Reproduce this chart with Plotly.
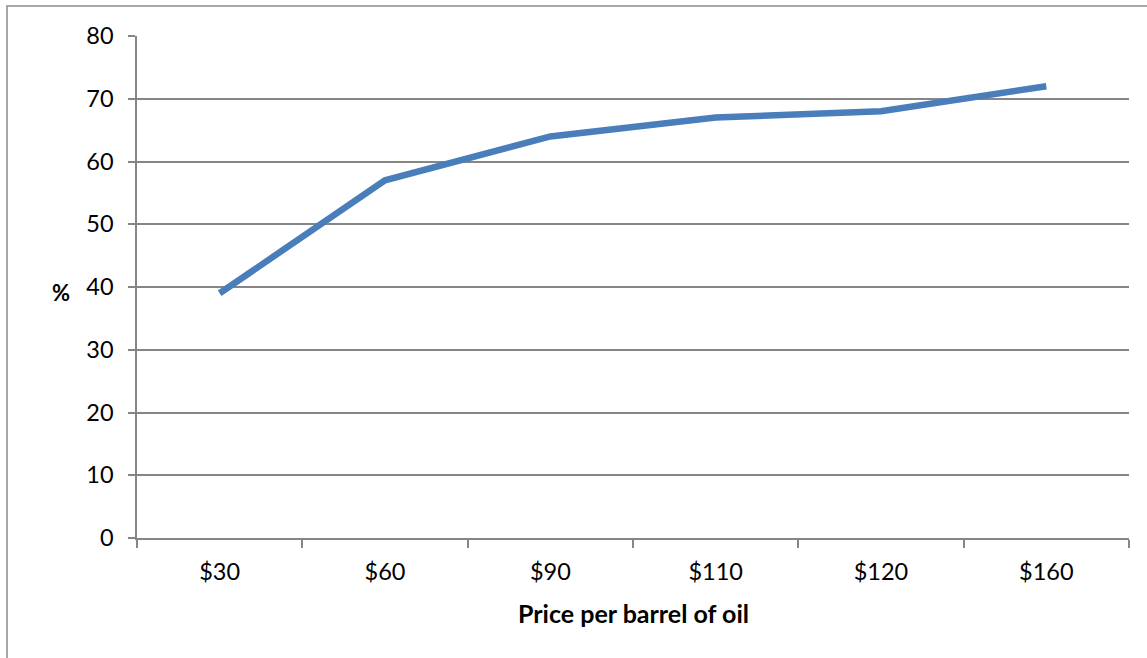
import plotly.graph_objects as go

# Oil price categories and share (%) at each price point
prices = ["$30", "$60", "$90", "$110", "$120", "$160"]
share_pct = [39, 57, 64, 67, 68, 72]
y_ticks = [0, 10, 20, 30, 40, 50, 60, 70, 80]

W, H = 1147, 658
L, R, T, B = 137, 18, 36, 120
plot_w = W - L - R
plot_h = H - T - B

grid_col = "#868686"
font_fam = "Lato, 'Open Sans', sans-serif"

fig = go.Figure()
fig.add_trace(go.Scatter(
    x=prices, y=share_pct, mode="lines",
    line=dict(color="#4a7ebb", width=6.5, shape="linear"),
    hoverinfo="x+y",
))

# outer chart frame (extends beyond the right and bottom edges)
def px_to_paper_x(px):
    return (px - L) / plot_w

def py_to_paper_y(py):
    return (H - B - py) / plot_h

fig.add_shape(type="rect", xref="paper", yref="paper",
              x0=px_to_paper_x(7), x1=px_to_paper_x(W + 20),
              y0=py_to_paper_y(H + 20), y1=py_to_paper_y(6),
              line=dict(color="#8c8c8c", width=1.5), fillcolor="rgba(0,0,0,0)",
              layer="below")

fig.add_annotation(text="<b>%</b>", xref="paper", yref="paper",
                   x=px_to_paper_x(61), y=py_to_paper_y(292),
                   xanchor="center", yanchor="middle",
                   showarrow=False, font=dict(family=font_fam, size=22, color="#000"))
fig.add_annotation(text="<b>Price per barrel of oil</b>", xref="paper", yref="paper",
                   x=px_to_paper_x(633), y=py_to_paper_y(613),
                   xanchor="center", yanchor="middle",
                   showarrow=False, font=dict(family=font_fam, size=25, color="#000"))

fig.update_layout(
    width=W, height=H,
    margin=dict(l=L, r=R, t=T, b=B),
    paper_bgcolor="white", plot_bgcolor="white",
    showlegend=False,
    font=dict(family=font_fam, size=23.5, color="#000"),
)
fig.update_xaxes(
    type="category", range=[-0.5, 5.5],
    showgrid=False, showline=True, linecolor=grid_col, linewidth=1.5,
    ticks="outside", tickson="boundaries", ticklen=8, tickcolor=grid_col, tickwidth=1.5,
    ticklabelstandoff=12, zeroline=False,
)
fig.update_yaxes(
    range=[0, 80], tickvals=y_ticks,
    showgrid=True, gridcolor=grid_col, gridwidth=1.5,
    showline=True, linecolor=grid_col, linewidth=1.5,
    ticks="outside", ticklen=7, tickcolor=grid_col, tickwidth=1.5,
    ticklabelstandoff=10, zeroline=False,
)

fig.write_html("out.html")
